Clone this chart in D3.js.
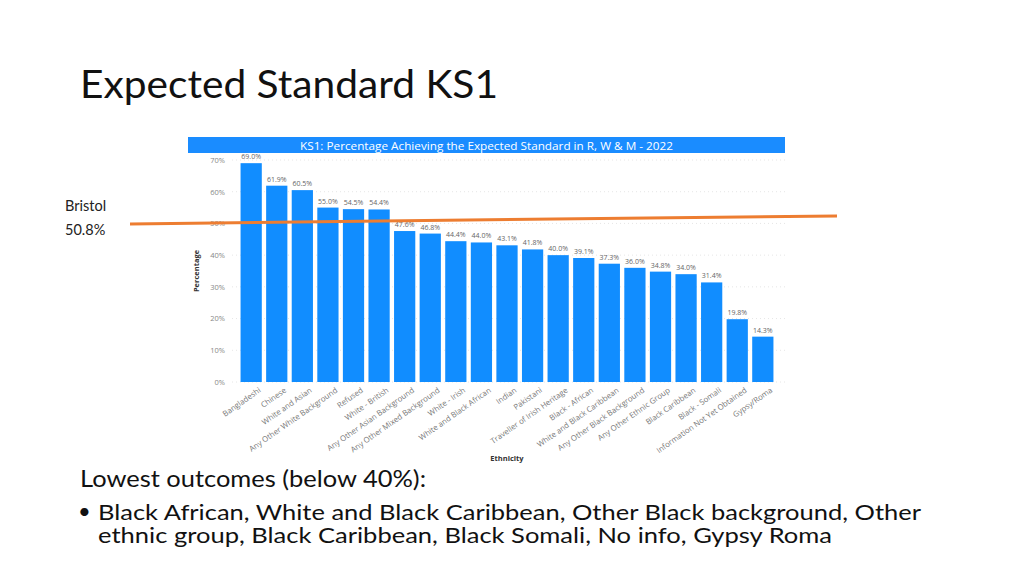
<!DOCTYPE html>
<html>
<head>
<meta charset="utf-8">
<script src="https://cdn.jsdelivr.net/npm/d3@7"></script>
<style>
  body { margin: 0; background: #fff; }
  svg { display: block; }
</style>
</head>
<body>
<svg id="chart" width="1024" height="576"></svg>
<script>
'use strict';

var categories = ['Bangladeshi', 'Chinese', 'White and Asian', 'Any Other White Background', 'Refused',
  'White - British', 'Any Other Asian Background', 'Any Other Mixed Background', 'White - Irish',
  'White and Black African', 'Indian', 'Pakistani', 'Traveller of Irish Heritage', 'Black - African',
  'White and Black Caribbean', 'Any Other Black Background', 'Any Other Ethnic Group', 'Black Caribbean',
  'Black - Somali', 'Information Not Yet Obtained', 'Gypsy/Roma'];
var values = [69.0, 61.9, 60.5, 55.0, 54.5, 54.4, 47.6, 46.8, 44.4, 44.0, 43.1, 41.8, 40.0, 39.1,
  37.3, 36.0, 34.8, 34.0, 31.4, 19.8, 14.3];
var yTicks = [0, 10, 20, 30, 40, 50, 60, 70];
var bristolAvg = 50.8;
var bulletLines = ['Black African, White and Black Caribbean, Other Black background, Other',
  'ethnic group, Black Caribbean, Black Somali, No info, Gypsy Roma'];

var svg = d3.select('#chart');
var slideFont = "Lato, 'Open Sans', sans-serif";
var chartFont = "'Open Sans', 'Noto Sans', sans-serif";

// slide title
svg.append('text')
  .attr('x', 80).attr('y', 98)
  .attr('textLength', 418).attr('lengthAdjust', 'spacingAndGlyphs')
  .style('font-family', slideFont).style('font-size', '39px').style('fill', '#111')
  .text('Expected Standard KS1');

// chart header bar
svg.append('rect')
  .attr('x', 188).attr('y', 137).attr('width', 597).attr('height', 16)
  .style('fill', '#1a8cff');
svg.append('text')
  .attr('x', 300).attr('y', 149.5)
  .attr('textLength', 373).attr('lengthAdjust', 'spacingAndGlyphs')
  .style('font-family', chartFont).style('font-size', '11px').style('fill', '#fff')
  .text('KS1: Percentage Achieving the Expected Standard in R, W & M - 2022');

var x = d3.scaleBand().domain(categories).range([238, 776]).paddingInner(0.17).paddingOuter(0.1);
var y = d3.scaleLinear().domain([0, 70]).range([382, 160]);

var g = svg.append('g');

// grid
g.selectAll('.grid').data(yTicks).join('line')
  .attr('x1', 232).attr('x2', 785)
  .attr('y1', function(d) { return y(d); }).attr('y2', function(d) { return y(d); })
  .style('stroke', '#e6e6e6').style('stroke-dasharray', '1,3');

var yAxis = g.append('g').attr('transform', 'translate(228,0)')
  .call(d3.axisLeft(y).tickValues(yTicks).tickSize(0).tickFormat(function(d) { return d + '%'; }));
yAxis.select('.domain').remove();
yAxis.selectAll('text').style('font-family', chartFont).style('font-size', '7.5px').style('fill', '#888');

// bars
g.selectAll('.bar').data(values).join('rect')
  .attr('x', function(d, i) { return x(categories[i]); })
  .attr('y', function(d) { return y(d); })
  .attr('width', x.bandwidth())
  .attr('height', function(d) { return y(0) - y(d); })
  .style('fill', '#118dff');

// value labels
g.selectAll('.val').data(values).join('text')
  .attr('x', function(d, i) { return x(categories[i]) + x.bandwidth() / 2; })
  .attr('y', function(d) { return y(d) - 4; })
  .attr('text-anchor', 'middle')
  .style('font-family', chartFont).style('font-size', '7px').style('fill', '#666')
  .text(function(d) { return d.toFixed(1) + '%'; });

// x axis labels
var xAxis = g.append('g').attr('transform', 'translate(0,' + y(0) + ')')
  .call(d3.axisBottom(x).tickSize(0).tickPadding(0));
xAxis.select('.domain').remove();
xAxis.selectAll('text')
  .attr('text-anchor', 'end')
  .attr('dy', '0.7em')
  .attr('transform', 'translate(7,5) rotate(-35)')
  .style('font-family', chartFont).style('font-size', '7.8px').style('fill', '#777');

// axis titles
svg.append('text')
  .attr('transform', 'translate(199,271) rotate(-90)').attr('text-anchor', 'middle')
  .style('font-family', chartFont).style('font-size', '7.5px').style('font-weight', 'bold').style('fill', '#333')
  .text('Percentage');
svg.append('text')
  .attr('x', 507).attr('y', 461).attr('text-anchor', 'middle')
  .style('font-family', chartFont).style('font-size', '7.5px').style('font-weight', 'bold').style('fill', '#333')
  .text('Ethnicity');

// Bristol average line (slightly tilted as in the slide)
svg.append('line')
  .attr('x1', 130).attr('x2', 837)
  .attr('y1', y(bristolAvg) + 3).attr('y2', y(bristolAvg) - 5)
  .style('stroke', '#ed7d31').style('stroke-width', 3);
svg.append('text')
  .attr('x', 65).attr('y', 211)
  .style('font-family', slideFont).style('font-size', '14.5px').style('fill', '#222')
  .text('Bristol');
svg.append('text')
  .attr('x', 65).attr('y', 235)
  .style('font-family', slideFont).style('font-size', '14.5px').style('fill', '#222')
  .text(bristolAvg + '%');

// bottom notes
svg.append('text')
  .attr('x', 80).attr('y', 487)
  .attr('textLength', 346).attr('lengthAdjust', 'spacingAndGlyphs')
  .style('font-family', slideFont).style('font-size', '24px').style('fill', '#111')
  .text('Lowest outcomes (below 40%):');
svg.append('text')
  .attr('x', 78).attr('y', 519)
  .style('font-family', slideFont).style('font-size', '22px').style('fill', '#111')
  .text('\u2022');
var noteLen = [823, 734];
svg.selectAll('.note').data(bulletLines).join('text')
  .attr('x', 98).attr('y', function(d, i) { return 520 + i * 23; })
  .attr('textLength', function(d, i) { return noteLen[i]; }).attr('lengthAdjust', 'spacingAndGlyphs')
  .style('font-family', slideFont).style('font-size', '22px').style('fill', '#111')
  .text(function(d) { return d; });
</script>
</body>
</html>
